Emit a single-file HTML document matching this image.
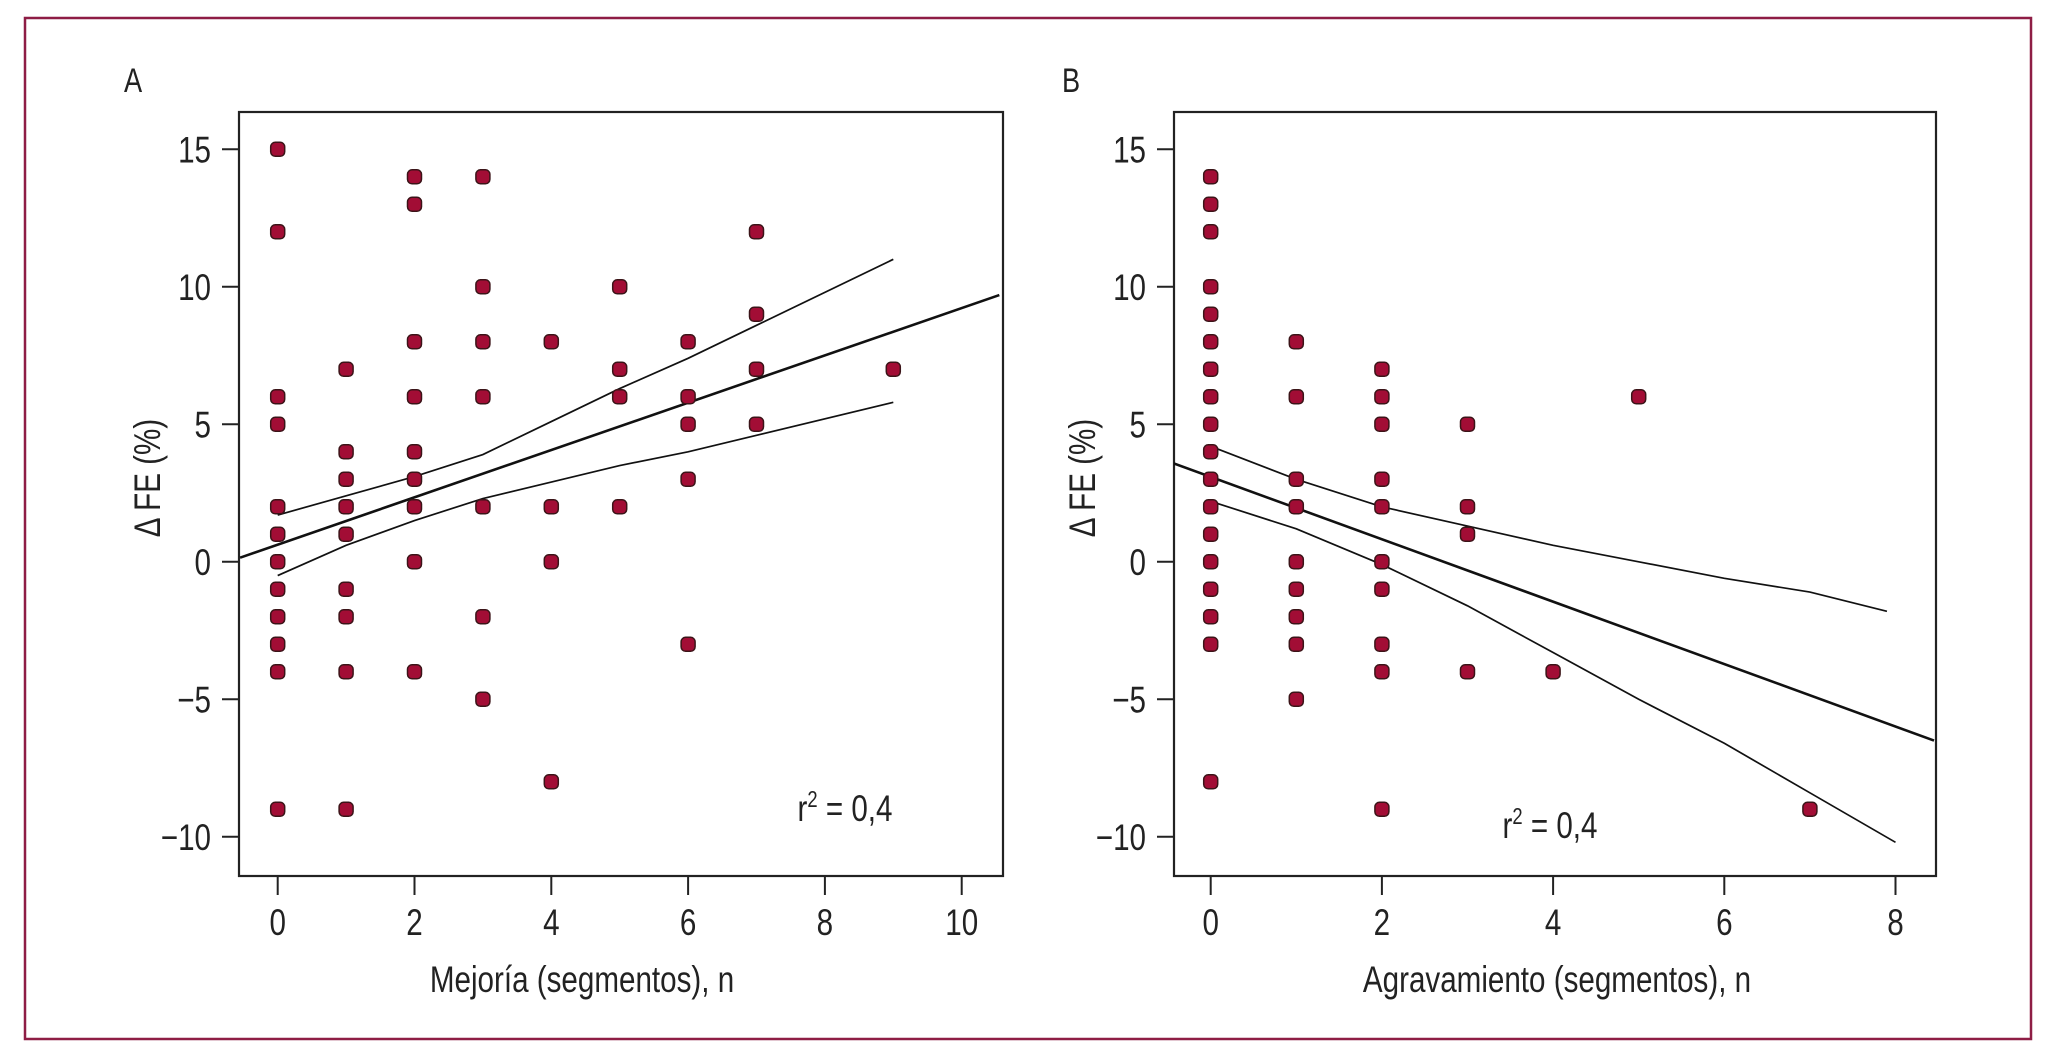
<!DOCTYPE html>
<html><head><meta charset="utf-8"><style>
html,body{margin:0;padding:0;background:#fff;}
svg{display:block;}
text{font-family:"Liberation Sans",sans-serif;fill:#222;}
</style></head><body>
<svg id="fig" width="2062" height="1058" viewBox="0 0 2062 1058" xmlns="http://www.w3.org/2000/svg">
<rect x="25" y="18" width="2006" height="1021" fill="none" stroke="#8e1d45" stroke-width="2.5"/>
</svg>
<script>
// Panel A data
const aX = [0,0,0,0,0,0,0,0,0,0,0,0, 1,1,1,1,1,1,1,1,1, 2,2,2,2,2,2,2,2,2, 3,3,3,3,3,3,3, 4,4,4,4, 5,5,5,5, 6,6,6,6,6, 7,7,7,7, 9];
const aY = [15,12,6,5,2,1,0,-1,-2,-3,-4,-9, 7,4,3,2,1,-1,-2,-4,-9, 14,13,8,6,4,3,2,0,-4, 14,10,8,6,2,-2,-5, 8,2,0,-8, 10,7,6,2, 8,6,5,3,-3, 12,9,7,5, 7];
const aFitX = [-0.55, 10.55];
const aFitY = [0.15, 9.7];
const aUpX = [0,1,2,3,4,5,6,7,9];
const aUpY = [1.7,2.4,3.1,3.9,5.1,6.3,7.4,8.6,11.0];
const aLoX = [0,1,2,3,4,5,6,7,9];
const aLoY = [-0.5,0.6,1.5,2.3,2.9,3.5,4.0,4.6,5.8];
const aXTicks = [0,2,4,6,8,10];
// Panel B data
const bX = [0,0,0,0,0,0,0,0,0,0,0,0,0,0,0,0,0,0, 1,1,1,1,1,1,1,1,1, 2,2,2,2,2,2,2,2,2,2, 3,3,3,3, 4, 5, 7];
const bY = [14,13,12,10,9,8,7,6,5,4,3,2,1,0,-1,-2,-3,-8, 8,6,3,2,0,-1,-2,-3,-5, 7,6,5,3,2,0,-1,-3,-4,-9, 5,2,1,-4, -4, 6, -9];
const bFitX = [-0.45, 8.45];
const bFitY = [3.6, -6.5];
const bUpX = [0,1,2,3,4,5,6,7,7.9];
const bUpY = [4.2,3.0,2.0,1.3,0.6,0.0,-0.6,-1.1,-1.8];
const bLoX = [0,1,2,3,4,5,6,7,8];
const bLoY = [2.2,1.2,-0.1,-1.6,-3.3,-5.0,-6.6,-8.4,-10.2];
const bXTicks = [0,2,4,6,8];
const yTicks = [15,10,5,0,-5,-10];

const NS = "http://www.w3.org/2000/svg";
const svg = document.getElementById('fig');
const TOP = 112, BOT = 876;
function mk(tag, attrs, parent){
  const e = document.createElementNS(NS, tag);
  for (const k in attrs) e.setAttribute(k, attrs[k]);
  (parent||svg).appendChild(e);
  return e;
}
function txt(x,y,s,size,anchor,parent,rot){
  const t = mk('text',{'font-size':size,'text-anchor':anchor,
    transform:`translate(${x},${y})${rot?' rotate(-90)':''} scale(0.8,1)`}, parent);
  t.textContent = s;
  return t;
}
function panel(cfg){
  const g = mk('g',{});
  
  
  const sx = v => cfg.x0 + v*cfg.kx;
  const sy = v => cfg.y0 - v*cfg.ky;
  const box = mk('rect',{x:cfg.L,y:TOP,width:cfg.R-cfg.L,height:BOT-TOP,fill:'none',stroke:'#222','stroke-width':2.2},g);
  
  
  yTicks.forEach(v=>{
    const l = mk('line',{x1:cfg.L-17,x2:cfg.L,y1:sy(v),y2:sy(v),stroke:'#222','stroke-width':2},g);
    
    
    const t = txt(cfg.L-28, sy(v)+13, v<0?'\u2212'+(-v):String(v), 37, 'end', g);
    
    
  });
  cfg.xt.forEach(v=>{
    const l = mk('line',{x1:sx(v),x2:sx(v),y1:BOT,y2:BOT+19,stroke:'#222','stroke-width':2},g);
    
    
    const t = txt(sx(v), 935, String(v), 37, 'middle', g);
    
    
  });
  const clip = mk('clipPath',{id:'clip'+cfg.name},g);
  mk('rect',{x:cfg.L,y:TOP,width:cfg.R-cfg.L,height:BOT-TOP},clip);
  const lg = mk('g',{'clip-path':`url(#clip${cfg.name})`},g);
  [[cfg.fitX,cfg.fitY,'regression-line',2.6],[cfg.upX,cfg.upY,'upper-ci-line',1.7],[cfg.loX,cfg.loY,'lower-ci-line',1.7]].forEach(([xs,ys,n,w])=>{
    const p = mk('polyline',{points:xs.map((x,i)=>sx(x)+','+sy(ys[i])).join(' '),fill:'none',stroke:'#111','stroke-width':w},lg);
    
    
  });
  cfg.px.forEach((x,i)=>{
    const r = mk('rect',{x:sx(x)-7,y:sy(cfg.py[i])-7,width:14,height:14,rx:4.5,fill:'#a20d35',stroke:'#3b1418','stroke-width':1.5},g);
    
    
  });
  const ti = txt(cfg.xTitleX, 992, cfg.xTitle, 37, 'middle', g);
  
  
  const yt = txt(cfg.yTitleX, 478, '\u0394 FE (%)', 37, 'middle', g, true);
  
  
  const pl = txt(cfg.labX, 92, cfg.label, 34, 'start', g);
  
  
  const r2 = mk('text',{'font-size':37,'text-anchor':'middle',transform:`translate(${cfg.r2x},${cfg.r2y}) scale(0.8,1)`},g);
  
  
  r2.innerHTML = 'r<tspan font-size="23" dy="-14">2</tspan><tspan dy="14"> = 0,4</tspan>';
}
panel({name:'panel-a',L:239,R:1003,x0:277.7,kx:68.4,y0:561.8,ky:27.5,xt:aXTicks,
  px:aX,py:aY,fitX:aFitX,fitY:aFitY,upX:aUpX,upY:aUpY,loX:aLoX,loY:aLoY,
  xTitle:'Mejoría (segmentos), n',xTitleX:582,yTitleX:160,label:'A',labX:124,r2x:845,r2y:821});
panel({name:'panel-b',L:1174,R:1936,x0:1210.7,kx:85.6,y0:561.8,ky:27.5,xt:bXTicks,
  px:bX,py:bY,fitX:bFitX,fitY:bFitY,upX:bUpX,upY:bUpY,loX:bLoX,loY:bLoY,
  xTitle:'Agravamiento (segmentos), n',xTitleX:1557,yTitleX:1095,label:'B',labX:1062,r2x:1550,r2y:838});
</script>
</body></html>
